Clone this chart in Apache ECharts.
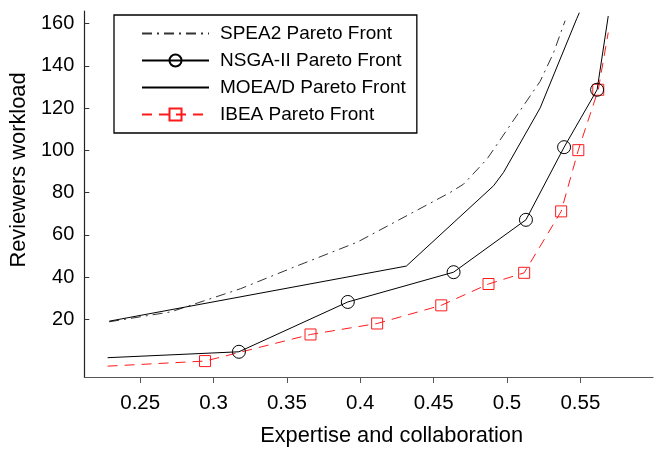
<!DOCTYPE html>
<html>
<head>
<meta charset="utf-8">
<script src="https://cdn.jsdelivr.net/npm/echarts@6/dist/echarts.min.js"></script>
<style>html,body{margin:0;padding:0;background:#fff}#c{width:659px;height:452px}</style>
</head>
<body>
<div id="c"></div>
<script>
// ---- data ----
const seriesNames = ['SPEA2 Pareto Front', 'NSGA-II Pareto Front', 'MOEA/D Pareto Front', 'IBEA Pareto Front'];

const spea2X = [0.2289, 0.2709, 0.3185, 0.3548, 0.3979, 0.4614, 0.4704, 0.4863, 0.5226, 0.5316, 0.5396];
const spea2Y = [18.8, 23.5, 34.5, 44.7, 56.5, 80.1, 84.0, 95.8, 132.7, 146.0, 161.4];

const nsgaX = [0.2278, 0.3173, 0.3915, 0.4636, 0.5129, 0.5389, 0.5614, 0.5690];
const nsgaY = [1.8, 4.6, 28.2, 42.3, 67.1, 101.5, 128.7, 163.6];

const moeaX = [0.2289, 0.4314, 0.4908, 0.4976, 0.5226, 0.5476, 0.5493];
const moeaY = [19.1, 45.2, 83.2, 89.5, 120.1, 162.5, 165.2];

const ibeaX = [0.2278, 0.2942, 0.3661, 0.4115, 0.4552, 0.4874, 0.5117, 0.5369, 0.5486, 0.5622, 0.5690];
const ibeaY = [-2.2, 0.2, 12.8, 18.0, 26.6, 36.7, 42.0, 71.1, 100.1, 128.7, 155.8];

const xTicks = [0.25, 0.3, 0.35, 0.4, 0.45, 0.5, 0.55];
const yTicks = [20, 40, 60, 80, 100, 120, 140, 160];

const xTitle = 'Expertise and collaboration';
const yTitle = 'Reviewers workload';

// ---- build ----
const FONT = "'Liberation Sans', Arial, Helvetica, sans-serif";
function pts(xs, ys) { return xs.map((x, i) => [x, ys[i]]); }
// markers only on interior points (end points are drawn as plain line)
function interiorMarkers(xs, ys) {
  return xs.map((x, i) => (i === 0 || i === xs.length - 1)
    ? { value: [x, ys[i]], symbol: 'none' }
    : { value: [x, ys[i]] });
}
const noSymbol = { color: 'rgba(0,0,0,0)', borderColor: 'rgba(0,0,0,0)', borderWidth: 0, opacity: 0 };

const chart = echarts.init(document.getElementById('c'), null, { renderer: 'canvas' });
chart.setOption({
  animation: false,
  backgroundColor: '#fff',
  textStyle: { fontFamily: FONT },
  grid: { left: 83, right: 6, top: 11, bottom: 73, containLabel: false },
  legend: {
    orient: 'vertical',
    left: 114, top: 15,
    data: [
      { name: seriesNames[0], itemStyle: noSymbol },
      { name: seriesNames[1] },
      { name: seriesNames[2], itemStyle: noSymbol },
      { name: seriesNames[3] }
    ],
    backgroundColor: '#fff',
    borderColor: '#000', borderWidth: 1.3,
    padding: [9, 11, 9, 27],
    itemWidth: 67, itemHeight: 15, itemGap: 8,
    textStyle: { fontSize: 19, color: '#000', fontFamily: FONT, padding: [0, 0, 0, 6] }
  },
  xAxis: {
    type: 'value',
    min: 0.2119, max: 0.5995,
    name: xTitle, nameLocation: 'middle', nameGap: 48,
    nameTextStyle: { fontSize: 21.8, color: '#000', fontFamily: FONT, padding: [0, 0, 0, 46] },
    axisLine: { show: true, onZero: false, lineStyle: { color: '#555', width: 1.2 } },
    axisTick: { show: true, inside: false, length: 6, customValues: xTicks, lineStyle: { color: '#555' } },
    axisLabel: { customValues: xTicks, fontSize: 20.5, color: '#000', margin: 16, fontFamily: FONT },
    splitLine: { show: false }
  },
  yAxis: {
    type: 'value',
    min: -7.34, max: 166,
    name: yTitle, nameLocation: 'middle', nameGap: 41,
    nameTextStyle: { fontSize: 21.8, color: '#000', fontFamily: FONT, padding: [0, 0, 0, 48] },
    axisLine: { show: true, onZero: false, lineStyle: { color: '#222', width: 1.2 } },
    axisTick: { show: true, inside: true, length: 5, customValues: yTicks, lineStyle: { color: '#333' } },
    axisLabel: { customValues: yTicks, fontSize: 20, color: '#000', margin: 10, fontFamily: FONT },
    splitLine: { show: false }
  },
  series: [
    {
      name: seriesNames[0], type: 'line', data: pts(spea2X, spea2Y),
      symbol: 'none',
      lineStyle: { color: '#333', width: 1, type: [10, 5, 2, 5] },
      itemStyle: { color: '#333' }, z: 2
    },
    {
      name: seriesNames[1], type: 'line', data: interiorMarkers(nsgaX, nsgaY),
      symbol: 'circle', symbolSize: 13, showAllSymbol: true,
      lineStyle: { color: '#000', width: 1 },
      itemStyle: { color: 'rgba(255,255,255,0)', borderColor: '#000', borderWidth: 1 }, z: 3
    },
    {
      name: seriesNames[2], type: 'line', data: pts(moeaX, moeaY),
      symbol: 'none',
      lineStyle: { color: '#000', width: 1 },
      itemStyle: { color: '#000' }, z: 2
    },
    {
      name: seriesNames[3], type: 'line', data: interiorMarkers(ibeaX, ibeaY),
      symbol: 'rect', symbolSize: 11, showAllSymbol: true,
      lineStyle: { color: '#ff1a1a', width: 1, type: [10, 7] },
      itemStyle: { color: 'rgba(255,255,255,0)', borderColor: '#ff1a1a', borderWidth: 1 }, z: 2
    }
  ]
});
</script>
</body>
</html>
